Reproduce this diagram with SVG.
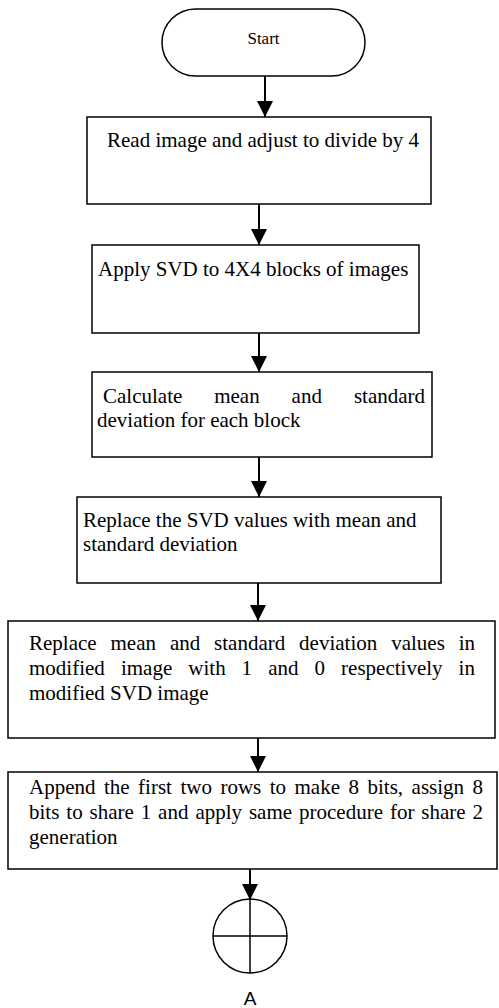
<svg xmlns="http://www.w3.org/2000/svg" width="499" height="1008" viewBox="0 0 499 1008">
<style>
.box{fill:#fff;stroke:#000;stroke-width:1.5}
.t{font-family:"Liberation Serif","Times New Roman",serif;font-size:21px;fill:#000}
.c{stroke:#000;stroke-width:2;fill:none}
</style>
<defs>
<marker id="ah" markerUnits="userSpaceOnUse" viewBox="0 0 16 16" markerWidth="16" markerHeight="16" refX="16" refY="8" orient="auto">
<path d="M0,0 L16,8 L0,16 Z" fill="#000"/>
</marker>
</defs>
<rect width="499" height="1008" fill="#fff"/>
<g id="connectors">
<line class="c" x1="265" y1="76" x2="265" y2="117" marker-end="url(#ah)"/>
<line class="c" x1="259" y1="204" x2="259" y2="245" marker-end="url(#ah)"/>
<line class="c" x1="259" y1="333" x2="259" y2="372" marker-end="url(#ah)"/>
<line class="c" x1="259" y1="457" x2="259" y2="497" marker-end="url(#ah)"/>
<line class="c" x1="258" y1="583" x2="258" y2="621" marker-end="url(#ah)"/>
<line class="c" x1="258" y1="738" x2="258" y2="772" marker-end="url(#ah)"/>
<line class="c" x1="250" y1="869" x2="250" y2="900" marker-end="url(#ah)"/>
</g>
<g id="start">
<rect class="box" x="162" y="9" width="203" height="67" rx="33.5"/>
<text class="t" x="263.5" y="44" text-anchor="middle" style="font-size:17px">Start</text>
</g>
<g id="read">
<rect class="box" x="87" y="117" width="344" height="87"/>
<text class="t" x="107" y="147">Read image and adjust to divide by 4</text>
</g>
<g id="svd">
<rect class="box" x="92" y="245" width="327" height="88"/>
<text class="t" x="98" y="276">Apply SVD to 4X4 blocks of images</text>
</g>
<g id="calc">
<rect class="box" x="92" y="372" width="340" height="85"/>
<text class="t" y="403"><tspan x="103">Calculate</tspan><tspan x="214.2">mean</tspan><tspan x="291.6">and</tspan><tspan x="353.9">standard</tspan></text>
<text class="t" x="97" y="427">deviation for each block</text>
</g>
<g id="replace1">
<rect class="box" x="77" y="497" width="364" height="86"/>
<text class="t" x="83" y="527">Replace the SVD values with mean and</text>
<text class="t" x="83" y="551">standard deviation</text>
</g>
<g id="replace2">
<rect class="box" x="8" y="621" width="487" height="117"/>
<text class="t" y="650"><tspan x="29">Replace</tspan><tspan x="110.5">mean</tspan><tspan x="169.9">and</tspan><tspan x="214.1">standard</tspan><tspan x="299.1">deviation</tspan><tspan x="391.2">values</tspan><tspan x="458.7">in</tspan></text>
<text class="t" y="675"><tspan x="29">modified</tspan><tspan x="120.9">image</tspan><tspan x="188.3">with</tspan><tspan x="241.6">1</tspan><tspan x="268.2">and</tspan><tspan x="314.6">0</tspan><tspan x="341.1">respectively</tspan><tspan x="458.6">in</tspan></text>
<text class="t" x="29" y="700">modified SVD image</text>
</g>
<g id="append">
<rect class="box" x="8" y="772" width="489" height="97"/>
<text class="t" y="794"><tspan x="29">Append</tspan><tspan x="104">the</tspan><tspan x="138.1">first</tspan><tspan x="180.4">two</tspan><tspan x="220.4">rows</tspan><tspan x="269.7">to</tspan><tspan x="294.5">make</tspan><tspan x="348.5">8</tspan><tspan x="367.5">bits,</tspan><tspan x="411.6">assign</tspan><tspan x="472.5">8</tspan></text>
<text class="t" y="819"><tspan x="29">bits</tspan><tspan x="66.3">to</tspan><tspan x="89.5">share</tspan><tspan x="140.7">1</tspan><tspan x="158.1">and</tspan><tspan x="195.4">apply</tspan><tspan x="248.9">same</tspan><tspan x="299">procedure</tspan><tspan x="389.9">for</tspan><tspan x="421.3">share</tspan><tspan x="472.5">2</tspan></text>
<text class="t" x="29" y="844">generation</text>
</g>
<g id="connectorA">
<circle cx="250" cy="936" r="37" fill="#fff" stroke="#000" stroke-width="1.5"/>
<line x1="250" y1="899" x2="250" y2="973" stroke="#000" stroke-width="1.5"/>
<line x1="213" y1="936" x2="287" y2="936" stroke="#000" stroke-width="1.5"/>
</g>
<g id="labelA">
<text class="t" x="250" y="1005" text-anchor="middle" style="font-family:'Liberation Sans',Arial,sans-serif;font-size:19px">A</text>
</g>
</svg>
